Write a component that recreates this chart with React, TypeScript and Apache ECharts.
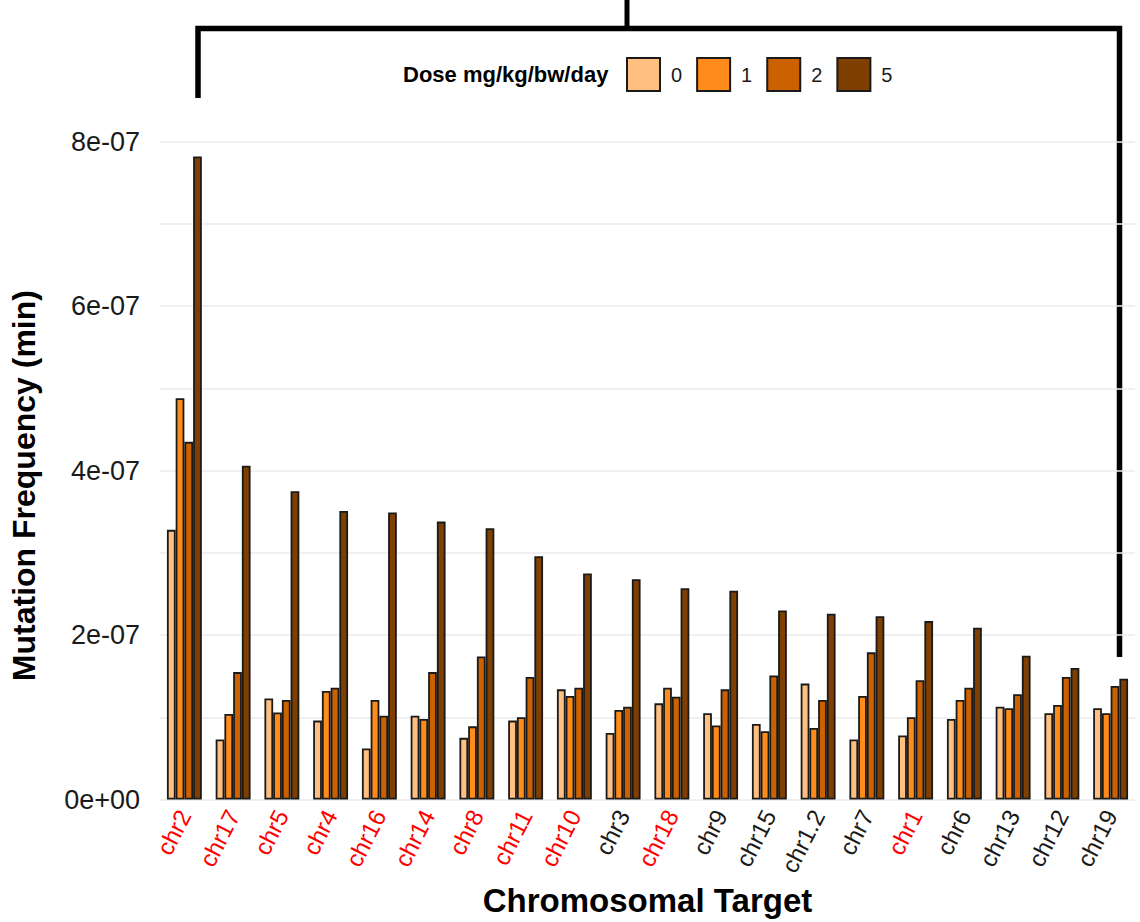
import React, { useEffect, useRef } from "react";
import * as echarts from "echarts";

const categories = ["chr2", "chr17", "chr5", "chr4", "chr16", "chr14", "chr8", "chr11", "chr10", "chr3", "chr18", "chr9", "chr15", "chr1.2", "chr7", "chr1", "chr6", "chr13", "chr12", "chr19"];
const redTargets = ["chr2", "chr17", "chr5", "chr4", "chr16", "chr14", "chr8", "chr11", "chr10", "chr18", "chr1"];
const doseLabels = ["0", "1", "2", "5"];
const dose0 = [3.28e-7, 0.73e-7, 1.23e-7, 0.96e-7, 0.62e-7, 1.02e-7, 0.75e-7, 0.96e-7, 1.34e-7, 0.81e-7, 1.17e-7, 1.05e-7, 0.92e-7, 1.41e-7, 0.73e-7, 0.78e-7, 0.98e-7, 1.13e-7, 1.05e-7, 1.11e-7];
const dose1 = [4.88e-7, 1.04e-7, 1.06e-7, 1.32e-7, 1.21e-7, 0.98e-7, 0.89e-7, 1.0e-7, 1.26e-7, 1.09e-7, 1.36e-7, 0.9e-7, 0.83e-7, 0.87e-7, 1.26e-7, 1.0e-7, 1.21e-7, 1.11e-7, 1.15e-7, 1.05e-7];
const dose2 = [4.35e-7, 1.55e-7, 1.21e-7, 1.36e-7, 1.02e-7, 1.55e-7, 1.74e-7, 1.49e-7, 1.36e-7, 1.13e-7, 1.25e-7, 1.34e-7, 1.51e-7, 1.21e-7, 1.79e-7, 1.45e-7, 1.36e-7, 1.28e-7, 1.49e-7, 1.38e-7];
const dose5 = [7.82e-7, 4.06e-7, 3.75e-7, 3.51e-7, 3.49e-7, 3.38e-7, 3.3e-7, 2.96e-7, 2.75e-7, 2.68e-7, 2.57e-7, 2.54e-7, 2.3e-7, 2.26e-7, 2.23e-7, 2.17e-7, 2.09e-7, 1.75e-7, 1.6e-7, 1.47e-7];
const doseColors = ["#FFBF80", "#FF8C1A", "#CC6100", "#7F3F00"];

const FONT = "'Liberation Sans', Arial, sans-serif";

export default function App() {
  const ref = useRef<HTMLDivElement>(null);
  useEffect(() => {
    if (!ref.current) return;
    const chart = echarts.init(ref.current, null, { renderer: "svg" });
    const values = [dose0, dose1, dose2, dose5];
    const series = values.map((arr, i) => ({
      name: doseLabels[i],
      type: "bar",
      data: arr,
      barGap: "0%",
      barCategoryGap: "28.4%",
      itemStyle: { color: doseColors[i], borderColor: "#1a1a1a", borderWidth: 1.8 },
    }));
    chart.setOption({
      animation: false,
      backgroundColor: "#ffffff",
      textStyle: { fontFamily: FONT },
      grid: { left: 158, right: 5, top: 141.7, bottom: 119.5, containLabel: false },
      legend: {
        data: doseLabels,
        left: 621,
        top: 52,
        itemWidth: 33,
        itemHeight: 33,
        itemGap: 14,
        icon: "rect",
        textStyle: { fontSize: 20, color: "#1a1a1a", fontFamily: FONT, padding: [0, 0, 0, 6] },
      },
      xAxis: {
        type: "category",
        data: categories,
        name: "Chromosomal Target",
        nameLocation: "middle",
        nameGap: 80,
        nameTextStyle: { fontSize: 33, fontWeight: "bold", color: "#000", fontFamily: FONT },
        axisLine: { show: false },
        axisTick: { show: false },
        axisLabel: {
          rotate: 63,
          fontSize: 24,
          margin: 12,
          fontFamily: FONT,
          color: (value: string) => (redTargets.indexOf(value) >= 0 ? "#FF0000" : "#1a1a1a"),
        },
      },
      yAxis: {
        type: "value",
        min: 0,
        max: 8e-7,
        interval: 1e-7,
        name: "Mutation Frequency (min)",
        nameLocation: "middle",
        nameGap: 120,
        nameRotate: 90,
        nameTextStyle: { fontSize: 32, fontWeight: "bold", color: "#000", fontFamily: FONT, padding: [0, 30, 0, 0] },
        axisLine: { show: false },
        axisTick: { show: false },
        splitLine: { lineStyle: { color: "#EBEBEB", width: 1.5 } },
        axisLabel: {
          fontSize: 27,
          margin: 20,
          color: "#1a1a1a",
          fontFamily: FONT,
          formatter: (v: number) => {
            const k = Math.round(v / 1e-7);
            if (k % 2 !== 0) return "";
            return (k * 1e-7).toExponential(0).replace(/e([+-])(\d)$/, "e$10$2");
          },
        },
      },
      graphic: [
        {
          type: "text",
          left: 403,
          top: 63,
          style: { text: "Dose mg/kg/bw/day", font: `bold 22px ${FONT}`, fill: "#000" },
        },
        {
          type: "polyline",
          shape: { points: [[198, 98], [198, 28.5], [1119.5, 28.5], [1119.5, 657]] },
          style: { stroke: "#000", lineWidth: 5.5, fill: "none" },
        },
        {
          type: "line",
          shape: { x1: 627, y1: 0, x2: 627, y2: 28.5 },
          style: { stroke: "#000", lineWidth: 5 },
        },
      ],
      series,
    });
    return () => chart.dispose();
  }, []);
  return <div ref={ref} style={{ position: "absolute", left: 0, top: 0, width: 1140, height: 922 }} />;
}
